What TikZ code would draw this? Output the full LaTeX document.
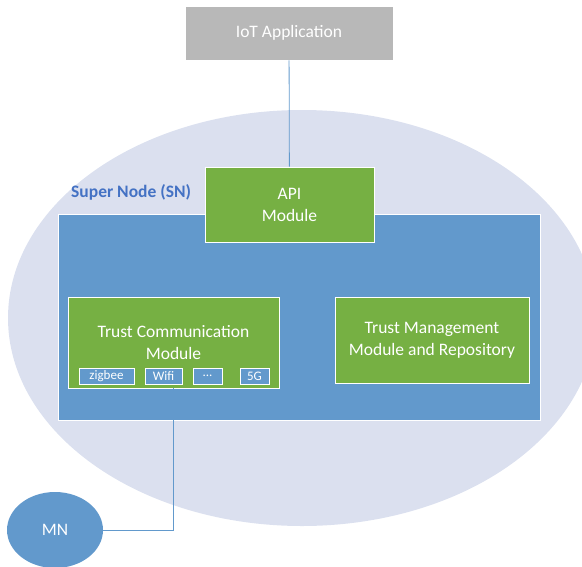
\documentclass[tikz,border=0pt]{standalone}
\usepackage{fontspec}
\setmainfont{Carlito}
\usetikzlibrary{positioning,shapes.geometric}
\definecolor{appgray}{RGB}{184,184,184}
\definecolor{snblue}{RGB}{98,153,204}
\definecolor{modgreen}{RGB}{118,176,67}
\definecolor{cloudclr}{RGB}{219,224,239}
\definecolor{titleblue}{RGB}{68,114,196}
\definecolor{wireblue}{RGB}{98,153,204}

\begin{document}
\begin{tikzpicture}[x=1pt,y=-1pt,
  box/.style={draw=white,line width=.8pt,text=white,align=center,inner sep=0pt,
    font=\fontsize{17.5}{22}\selectfont},
  module/.style={box,fill=modgreen},
  radio/.style={draw=white,line width=.8pt,fill=snblue,text=white,inner sep=0pt,
    minimum height=16pt,font=\fontsize{13}{14}\selectfont},
  wire/.style={wireblue,line width=.8pt}]
\useasboundingbox (0,0) rectangle (582,566);
% cloud round the super node
\fill[cloudclr] (302,318) ellipse (294pt and 208pt);
\node[box,fill=appgray,minimum width=208pt,minimum height=54pt] (app) at (289,33) {IoT Application};
\node[box,fill=snblue,minimum width=482pt,minimum height=206pt] (sn) at (299,317) {};
\node[text=titleblue,font=\bfseries\fontsize{17.5}{20}\selectfont,anchor=west,inner sep=0pt] (snlabel) at (71,192) {Super Node (SN)};
\node[module,minimum width=169pt,minimum height=75pt] (api) at (289.5,204.5) {API\\Module};
\node[module,minimum width=211pt,minimum height=91pt] (tcm) at (173.5,342.5) {Trust Communication\\Module};
\node[module,minimum width=194pt,minimum height=86pt] (tmr) at (432,340) {Trust Management\\Module and Repository};
% radios of the communication module
\node[radio,minimum width=55pt] (zigbee) at (106.5,376) {zigbee};
\node[radio,minimum width=37pt] (wifi) at (163.5,376) {Wifi};
\node[radio,minimum width=29pt] (more) at (207.5,376) {...};
\node[radio,minimum width=29pt] (fiveg) at (254.5,376) {5G};
\node[ellipse,fill=snblue,text=white,inner sep=0pt,minimum width=96pt,minimum height=76pt,
  font=\fontsize{17.5}{20}\selectfont] (mn) at (55,530) {MN};
\draw[wire] (app) -- (api);
\draw[wire] (tcm.south) |- (mn.east);
\end{tikzpicture}
\end{document}
